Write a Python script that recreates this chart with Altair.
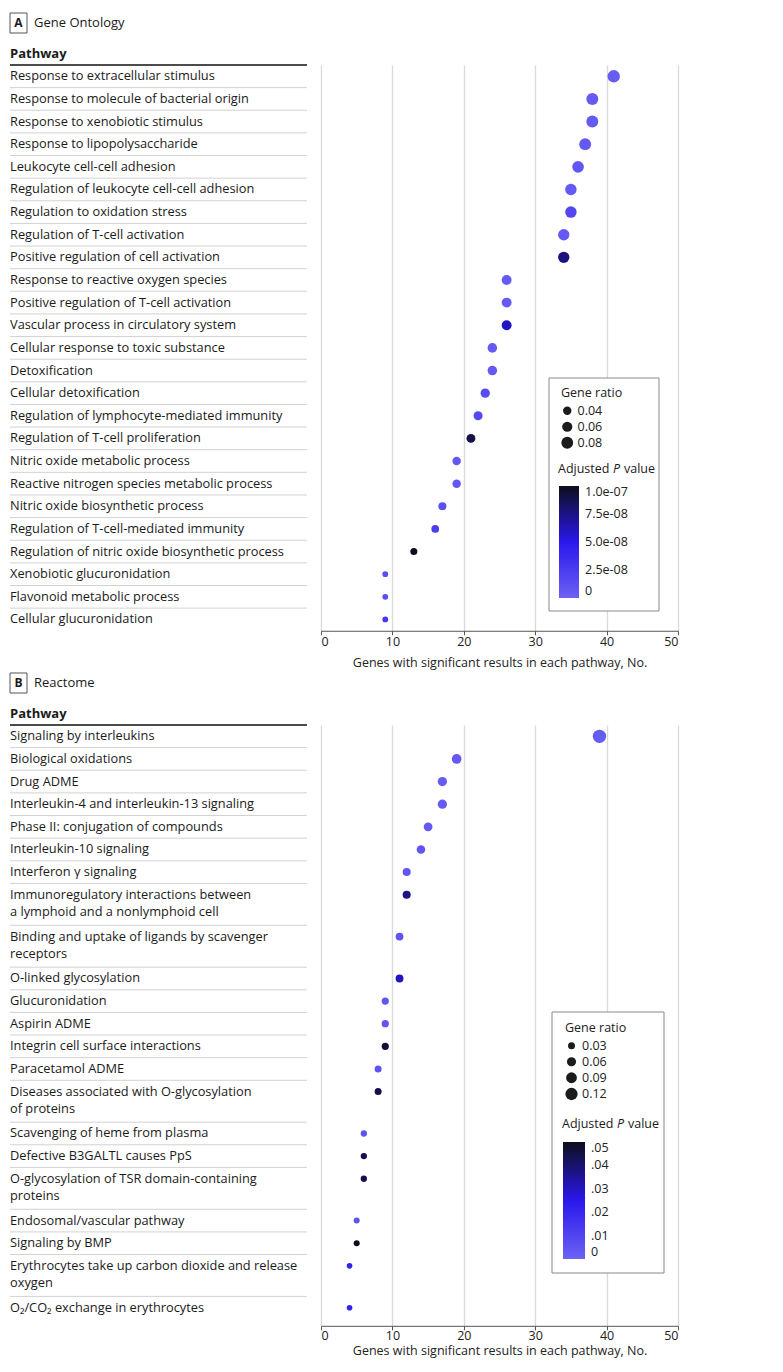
import altair as alt
import pandas as pd

# ---------------- Data ----------------
go_pathways = [
    "Response to extracellular stimulus",
    "Response to molecule of bacterial origin",
    "Response to xenobiotic stimulus",
    "Response to lipopolysaccharide",
    "Leukocyte cell-cell adhesion",
    "Regulation of leukocyte cell-cell adhesion",
    "Regulation to oxidation stress",
    "Regulation of T-cell activation",
    "Positive regulation of cell activation",
    "Response to reactive oxygen species",
    "Positive regulation of T-cell activation",
    "Vascular process in circulatory system",
    "Cellular response to toxic substance",
    "Detoxification",
    "Cellular detoxification",
    "Regulation of lymphocyte-mediated immunity",
    "Regulation of T-cell proliferation",
    "Nitric oxide metabolic process",
    "Reactive nitrogen species metabolic process",
    "Nitric oxide biosynthetic process",
    "Regulation of T-cell-mediated immunity",
    "Regulation of nitric oxide biosynthetic process",
    "Xenobiotic glucuronidation",
    "Flavonoid metabolic process",
    "Cellular glucuronidation",
]
go_counts = [41, 38, 38, 37, 36, 35, 35, 34, 34, 26, 26, 26, 24, 24, 23, 22, 21,
             19, 19, 17, 16, 13, 9, 9, 9]
go_ratio = [0.088, 0.082, 0.082, 0.080, 0.077, 0.075, 0.075, 0.073, 0.073, 0.056,
            0.056, 0.056, 0.052, 0.052, 0.049, 0.047, 0.045, 0.041, 0.041, 0.037,
            0.034, 0.028, 0.019, 0.019, 0.019]
go_padj = [0.4e-8, 0.5e-8, 0.5e-8, 0.6e-8, 0.8e-8, 0.6e-8, 1.8e-8, 0.6e-8, 7.7e-8,
           0.5e-8, 0.5e-8, 6.0e-8, 0.5e-8, 0.6e-8, 1.5e-8, 1.7e-8, 8.9e-8, 0.7e-8,
           0.7e-8, 1.2e-8, 2.4e-8, 1.0e-7, 1.4e-8, 1.4e-8, 2.8e-8]

re_pathways = [
    "Signaling by interleukins",
    "Biological oxidations",
    "Drug ADME",
    "Interleukin-4 and interleukin-13 signaling",
    "Phase II: conjugation of compounds",
    "Interleukin-10 signaling",
    "Interferon γ signaling",
    "Immunoregulatory interactions between\na lymphoid and a nonlymphoid cell",
    "Binding and uptake of ligands by scavenger\nreceptors",
    "O-linked glycosylation",
    "Glucuronidation",
    "Aspirin ADME",
    "Integrin cell surface interactions",
    "Paracetamol ADME",
    "Diseases associated with O-glycosylation\nof proteins",
    "Scavenging of heme from plasma",
    "Defective B3GALTL causes PpS",
    "O-glycosylation of TSR domain-containing\nproteins",
    "Endosomal/vascular pathway",
    "Signaling by BMP",
    "Erythrocytes take up carbon dioxide and release\noxygen",
    "O₂/CO₂ exchange in erythrocytes",
]
re_counts = [39, 19, 17, 17, 15, 14, 12, 12, 11, 11, 9, 9, 9, 8, 8, 6, 6, 6, 5, 5, 4, 4]
re_ratio = [0.144, 0.070, 0.063, 0.063, 0.056, 0.052, 0.044, 0.044, 0.041, 0.041,
            0.033, 0.033, 0.033, 0.030, 0.030, 0.022, 0.022, 0.022, 0.019, 0.019,
            0.015, 0.015]
re_padj = [0.002, 0.003, 0.002, 0.002, 0.003, 0.004, 0.004, 0.037, 0.005, 0.031,
           0.004, 0.004, 0.046, 0.005, 0.045, 0.005, 0.044, 0.044, 0.005, 0.050,
           0.021, 0.021]

go_size_legend = [0.04, 0.06, 0.08]
re_size_legend = [0.03, 0.06, 0.09, 0.12]
go_p_legend = [0, 2.5e-8, 5.0e-8, 7.5e-8, 1.0e-7]
re_p_legend = [0, 0.01, 0.02, 0.03, 0.04, 0.05]
x_ticks = [0, 10, 20, 30, 40, 50]

# ---------------- Style ----------------
FONT = "Open Sans"
FS = 12.8          # row label size
LFS = 12.5         # legend / axis text size
UNIT = 22.63       # px per single-line row
DOUBLE = 1.85      # height of a two-line row, in rows
LINE2 = 0.77       # offset of second text line, in rows
COLORS = ["#6c62f3", "#2a17ec", "#0e0e1c"]
TXT = "#1a1a1a"


def build_rows(pathways):
    tops, lines = [], []
    pos = 0.0
    for p in pathways:
        parts = p.split("\n")
        tops.append(pos)
        for k, t in enumerate(parts):
            lines.append({"line": t, "ly": pos + 0.5 + k * LINE2})
        pos += 1.0 + (len(parts) - 1) * (DOUBLE - 1)
    return tops, lines, pos


def panel(letter, title, pathways, counts, ratios, padjs, pad_units,
          size_rng, size_dom, size_vals, p_max, p_vals, p_expr, leg, ax):
    tops, lines, total = build_rows(pathways)
    n_units = total + pad_units
    height = n_units * UNIT
    yscale = alt.Scale(domain=[0, n_units], reverse=True, nice=False, zero=False)
    xscale = alt.Scale(domain=[0, 50], range=[311, 668], nice=False, zero=False)

    df_pts = pd.DataFrame({
        "pathway": [p.replace("\n", " ") for p in pathways],
        "count": counts, "ratio": ratios, "padj": padjs,
        "py": [t + 0.5 for t in tops],
    })
    df_lines = pd.DataFrame(lines)
    df_sep = pd.DataFrame({"sy": tops[1:]})
    one = pd.DataFrame({"a": [0]})

    seps = alt.Chart(df_sep).mark_rule(color="#d2d2d2", strokeWidth=1).encode(
        x=alt.value(0), x2=alt.value(297),
        y=alt.Y("sy:Q", scale=yscale, axis=None))
    thick = alt.Chart(one).mark_rule(color="#111111", strokeWidth=1.5).encode(
        x=alt.value(0), x2=alt.value(297), y=alt.value(0))
    header = alt.Chart(one).mark_text(
        text="Pathway", align="left", baseline="middle", font=FONT,
        fontSize=13, fontWeight="bold", color=TXT).encode(
        x=alt.value(0), y=alt.value(-11))
    box = alt.Chart(one).mark_rect(fill="white", stroke="#555555", strokeWidth=1).encode(
        x=alt.value(0), x2=alt.value(17), y=alt.value(-52), y2=alt.value(-32))
    letter_t = alt.Chart(one).mark_text(
        text=letter, align="center", baseline="middle", font=FONT, fontSize=12,
        fontWeight="bold", color=TXT).encode(x=alt.value(8.5), y=alt.value(-42))
    title_t = alt.Chart(one).mark_text(
        text=title, align="left", baseline="middle", font=FONT, fontSize=13,
        color=TXT).encode(x=alt.value(24), y=alt.value(-42))
    labels = alt.Chart(df_lines).mark_text(
        align="left", baseline="middle", font=FONT, fontSize=FS, color=TXT).encode(
        x=alt.value(0), y=alt.Y("ly:Q", scale=yscale, axis=None), text="line:N")

    lx0, lx1, ly0, ly1 = leg["box"]
    legbox = alt.Chart(one).mark_rect(fill="white", stroke="#8a8a8a", strokeWidth=1).encode(
        x=alt.value(lx0), x2=alt.value(lx1), y=alt.value(ly0), y2=alt.value(ly1))
    tx, ty = leg["ptitle"]
    t1 = alt.Chart(one).mark_text(text="Adjusted", align="left", baseline="middle",
                                  font=FONT, fontSize=LFS, color=TXT).encode(
        x=alt.value(tx), y=alt.value(ty))
    t2 = alt.Chart(one).mark_text(text="P", align="left", baseline="middle",
                                  font=FONT, fontSize=LFS, fontStyle="italic", color=TXT).encode(
        x=alt.value(tx + 55), y=alt.value(ty))
    t3 = alt.Chart(one).mark_text(text="value", align="left", baseline="middle",
                                  font=FONT, fontSize=LFS, color=TXT).encode(
        x=alt.value(tx + 66), y=alt.value(ty))

    pts = alt.Chart(df_pts).mark_circle(opacity=1).encode(
        x=alt.X("count:Q", scale=xscale,
                axis=alt.Axis(values=x_ticks, grid=True, tickSize=4,
                              labelPadding=ax["lp"], titlePadding=ax["tp"],
                              title="Genes with significant results in each pathway, No.")),
        y=alt.Y("py:Q", scale=yscale, axis=None),
        size=alt.Size("ratio:Q", scale=alt.Scale(domain=size_dom, range=size_rng),
                      legend=alt.Legend(title="Gene ratio", values=size_vals, format=".2f",
                                        orient="none", legendX=leg["sx"], legendY=leg["sy"],
                                        symbolType="circle", symbolFillColor="#1b1b1b",
                                        symbolStrokeWidth=0, rowPadding=leg["rp"])),
        color=alt.Color("padj:Q",
                        scale=alt.Scale(domain=[0, p_max / 2, p_max], range=COLORS,
                                        interpolate="rgb"),
                        legend=alt.Legend(title=None, values=p_vals, labelExpr=p_expr,
                                          orient="none", legendX=leg["cx"], legendY=leg["cy"],
                                          direction="vertical", gradientLength=leg["glen"],
                                          gradientThickness=leg["gth"], gradientStrokeWidth=0,
                                          labelOverlap=False, labelOffset=6)),
        tooltip=["pathway:N", "count:Q", "ratio:Q", "padj:Q"],
    )

    return alt.layer(seps, thick, header, box, letter_t, title_t, labels,
                     legbox, t1, t2, t3, pts).properties(width=668, height=height)


panelA = panel(
    "A", "Gene Ontology", go_pathways, go_counts, go_ratio, go_padj, 0.0,
    [0, 175], [0, 0.1], go_size_legend, 1.0e-7, go_p_legend,
    "datum.value == 0 ? '0' : replace(format(datum.value, '.1e'), 'e-', 'e-0')",
    {"box": (539, 649, 313, 546), "ptitle": (548, 404), "sx": 551, "sy": 322,
     "cx": 549, "cy": 421, "glen": 112, "gth": 20, "rp": 3},
    {"lp": 1, "tp": 8},
)
panelB = panel(
    "B", "Reactome", re_pathways, re_counts, re_ratio, re_padj, 0.3,
    [15, 185], [0, 0.15], re_size_legend, 0.05, re_p_legend,
    "datum.value == 0 ? '0' : replace(format(datum.value, '.2f'), '0.', '.')",
    {"box": (542, 654, 287, 548), "ptitle": (552, 399), "sx": 555, "sy": 297,
     "cx": 553, "cy": 417, "glen": 117, "gth": 22, "rp": 3},
    {"lp": 0, "tp": 2},
)

chart = alt.vconcat(panelA, panelB, spacing=2).resolve_scale(
    color="independent", size="independent"
).properties(
    padding={"left": 0, "top": 4, "right": 5, "bottom": 5}
).configure_view(stroke="transparent").configure_axisX(
    labelFont=FONT, labelFontSize=LFS, labelColor="#222222",
    titleFont=FONT, titleFontSize=LFS, titleFontWeight="normal", titleColor="#222222",
    domainColor="#555555", tickColor="#555555",
    gridColor="#d9d9d9", gridWidth=1.3,
).configure_legend(
    labelFont=FONT, labelFontSize=LFS, labelColor="#222222",
    titleFont=FONT, titleFontSize=LFS, titleFontWeight="normal", titleColor="#222222",
    padding=0,
)

chart.save("out.html", embed_options={"renderer": "svg", "actions": False})
